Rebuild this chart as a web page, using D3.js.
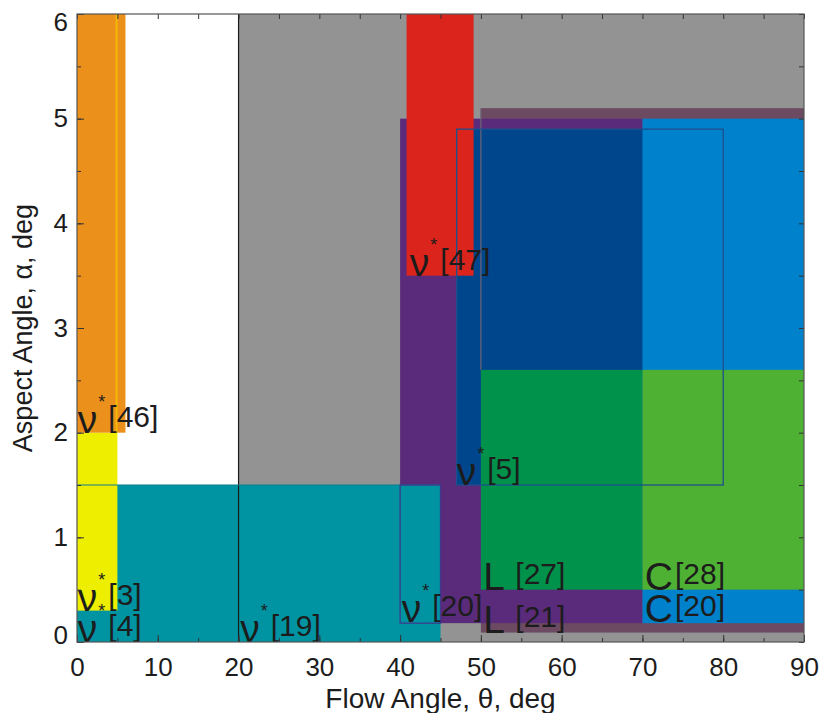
<!DOCTYPE html>
<html>
<head>
<meta charset="utf-8">
<script src="https://cdn.jsdelivr.net/npm/d3@7"></script>
<style>
  body { margin: 0; background: #fff; }
  text { font-family: "Liberation Sans", Arial, sans-serif; fill: #1c1c1c; }
</style>
</head>
<body>
<script>
// Regions of the map, drawn in this order (later ones cover earlier ones)
var regionKey  = ["gray", "mauve", "purple", "darkBlue", "lightBlue", "red", "darkGreen", "lightGreen", "teal", "yellow", "orange"];
var thetaLo    = [20,   50,   40,   47,  70,   40.8, 50,  70,  0,   0,   0];
var thetaHi    = [90,   90,   70,   80,  90,   49.1, 70,  90,  45,  5,   6];
var alphaLo    = [0,    0.09, 0.18, 1.5, 0.18, 3.5,  0.5, 0.5, 0,   0.3, 2];
var alphaHi    = [6,    5.1,  5.0,  4.9, 5.0,  6,    2.6, 2.6, 1.5, 2,   6];

// outlined boxes drawn on top of the fills
var boxKey      = ["nu5", "nu20"];
var boxThetaLo  = [47, 40];
var boxThetaHi  = [80, 45];
var boxAlphaLo  = [1.5, 0.18];
var boxAlphaHi  = [4.9, 1.5];

// single region edges that show through
var edgeKey     = ["grayEdge", "tealEdge", "mauveEdge", "yellowEdge"];
var edgeTheta1  = [20, 0, 50, 4.9];
var edgeTheta2  = [20, 45, 50, 4.9];
var edgeAlpha1  = [0, 1.5, 2.6, 2];
var edgeAlpha2  = [6, 1.5, 5.1, 6];

// text annotations (letter, star, reference) at data positions
var labelLetter = ["ν", "ν", "ν", "ν", "ν", "ν", "ν", "L", "L", "C", "C"];
var labelStar   = [true, true, true, true, true, true, true, false, false, false, false];
var labelRef    = ["[46]", "[3]", "[4]", "[19]", "[47]", "[5]", "[20]", " [27]", " [21]", "[28]", "[20]"];
var labelTheta  = [0.1, 0.1, 0.1, 20.2, 41.2, 47.0, 40.2, 50.3, 50.3, 70.3, 70.3];
var labelAlpha  = [2.0, 0.3, 0.0, 0.0, 3.5, 1.5, 0.19, 0.5, 0.09, 0.5, 0.19];

var xTicks = d3.range(0, 91, 10);
var yTicks = d3.range(0, 7, 1);
var xMinor = d3.range(0, 91, 5);
var yMinor = d3.range(0, 6.01, 0.5);

var colors = {
  gray: "#939393", mauve: "#6c4a62", purple: "#5a2b7b", lightBlue: "#0081cc",
  darkBlue: "#00468d", red: "#db241b", darkGreen: "#00924a", lightGreen: "#4eb134",
  teal: "#0094a3", yellow: "#eeee00", orange: "#eb901b",
  nu5: "#1e4f8d", nu20: "#3c3a8c",
  grayEdge: "#1a1a1a", tealEdge: "#0b7e8a", mauveEdge: "#6d6478", yellowEdge: "#f2b805"
};

var W = 820, H = 713;
var margin = { top: 14, right: 16, bottom: 71, left: 77 };
var width = W - margin.left - margin.right,
    height = H - margin.top - margin.bottom;

var svg = d3.select("body").append("svg")
  .attr("width", W)
  .attr("height", H);

var g = svg.append("g")
  .attr("transform", "translate(" + margin.left + "," + margin.top + ")");

var x = d3.scaleLinear().domain([0, 90]).range([0, width]);
var y = d3.scaleLinear().domain([0, 6]).range([height, 0]);

// filled regions
g.selectAll("rect.region")
  .data(regionKey)
  .enter()
  .append("rect")
  .attr("class", "region")
  .attr("x", (d, i) => x(thetaLo[i]))
  .attr("y", (d, i) => y(alphaHi[i]))
  .attr("width", (d, i) => x(thetaHi[i]) - x(thetaLo[i]))
  .attr("height", (d, i) => y(alphaLo[i]) - y(alphaHi[i]))
  .attr("fill", d => colors[d]);

// edges
g.selectAll("line.edge")
  .data(edgeKey)
  .enter()
  .append("line")
  .attr("x1", (d, i) => x(edgeTheta1[i]))
  .attr("x2", (d, i) => x(edgeTheta2[i]))
  .attr("y1", (d, i) => y(edgeAlpha1[i]))
  .attr("y2", (d, i) => y(edgeAlpha2[i]))
  .attr("stroke", d => colors[d])
  .attr("stroke-width", d => d === "yellowEdge" ? 2 : 1.2);

// outlined boxes
g.selectAll("rect.box")
  .data(boxKey)
  .enter()
  .append("rect")
  .attr("x", (d, i) => x(boxThetaLo[i]))
  .attr("y", (d, i) => y(boxAlphaHi[i]))
  .attr("width", (d, i) => x(boxThetaHi[i]) - x(boxThetaLo[i]))
  .attr("height", (d, i) => y(boxAlphaLo[i]) - y(boxAlphaHi[i]))
  .attr("fill", "none")
  .attr("stroke", d => colors[d])
  .attr("stroke-width", 1.3);

// annotations
labelLetter.forEach(function(letter, i) {
  var t = g.append("text")
    .attr("x", x(labelTheta[i]))
    .attr("y", y(labelAlpha[i]));
  t.append("tspan").attr("font-size", 39).text(letter);
  if (labelStar[i]) {
    t.append("tspan").attr("font-size", 18).attr("dx", 1).attr("dy", -25).text("*");
    t.append("tspan").attr("font-size", 30).attr("dx", 3).attr("dy", 19).text(labelRef[i]);
  } else {
    t.append("tspan").attr("font-size", 30).attr("dx", 2).attr("dy", -6).text(labelRef[i]);
  }
});

// axes, ticks pointing inward
function styleAxis(sel) {
  sel.select(".domain").remove();
  sel.selectAll(".tick line").attr("stroke", "#333");
  sel.selectAll("text").attr("font-size", 26).attr("fill", "#222");
}

g.append("g")
  .attr("transform", "translate(0," + height + ")")
  .call(d3.axisBottom(x).tickValues(xTicks).tickSizeInner(-7).tickSizeOuter(0).tickPadding(16).tickFormat(d3.format("d")))
  .call(styleAxis);
g.append("g")
  .attr("transform", "translate(0," + height + ")")
  .call(d3.axisBottom(x).tickValues(xMinor).tickSizeInner(-4).tickSizeOuter(0).tickFormat(""))
  .call(styleAxis);
g.append("g")
  .call(d3.axisTop(x).tickValues(xMinor).tickSizeInner(-5).tickSizeOuter(0).tickFormat(""))
  .call(styleAxis);

var yAxis = g.append("g")
  .call(d3.axisLeft(y).tickValues(yTicks).tickSizeInner(-7).tickSizeOuter(0).tickPadding(9).tickFormat(d3.format("d")))
  .call(styleAxis);
// end labels pulled inside like the original
yAxis.selectAll(".tick text")
  .attr("dy", d => d === 6 ? "0.63em" : d === 0 ? "0.05em" : "0.32em");
g.append("g")
  .call(d3.axisLeft(y).tickValues(yMinor).tickSizeInner(-4).tickSizeOuter(0).tickFormat(""))
  .call(styleAxis);
g.append("g")
  .attr("transform", "translate(" + width + ",0)")
  .call(d3.axisRight(y).tickValues(yMinor).tickSizeInner(-5).tickSizeOuter(0).tickFormat(""))
  .call(styleAxis);

// frame
g.append("rect")
  .attr("width", width)
  .attr("height", height)
  .attr("fill", "none")
  .attr("stroke", "#555")
  .attr("stroke-width", 1.2);

// axis titles
svg.append("text")
  .attr("x", margin.left + width / 2)
  .attr("y", 708)
  .attr("text-anchor", "middle")
  .attr("font-size", 28)
  .attr("fill", "#222")
  .text("Flow Angle, θ, deg");

svg.append("text")
  .attr("transform", "translate(32," + (margin.top + height / 2) + ") rotate(-90)")
  .attr("text-anchor", "middle")
  .attr("font-size", 27)
  .attr("fill", "#222")
  .text("Aspect Angle, α, deg");
</script>
</body>
</html>
